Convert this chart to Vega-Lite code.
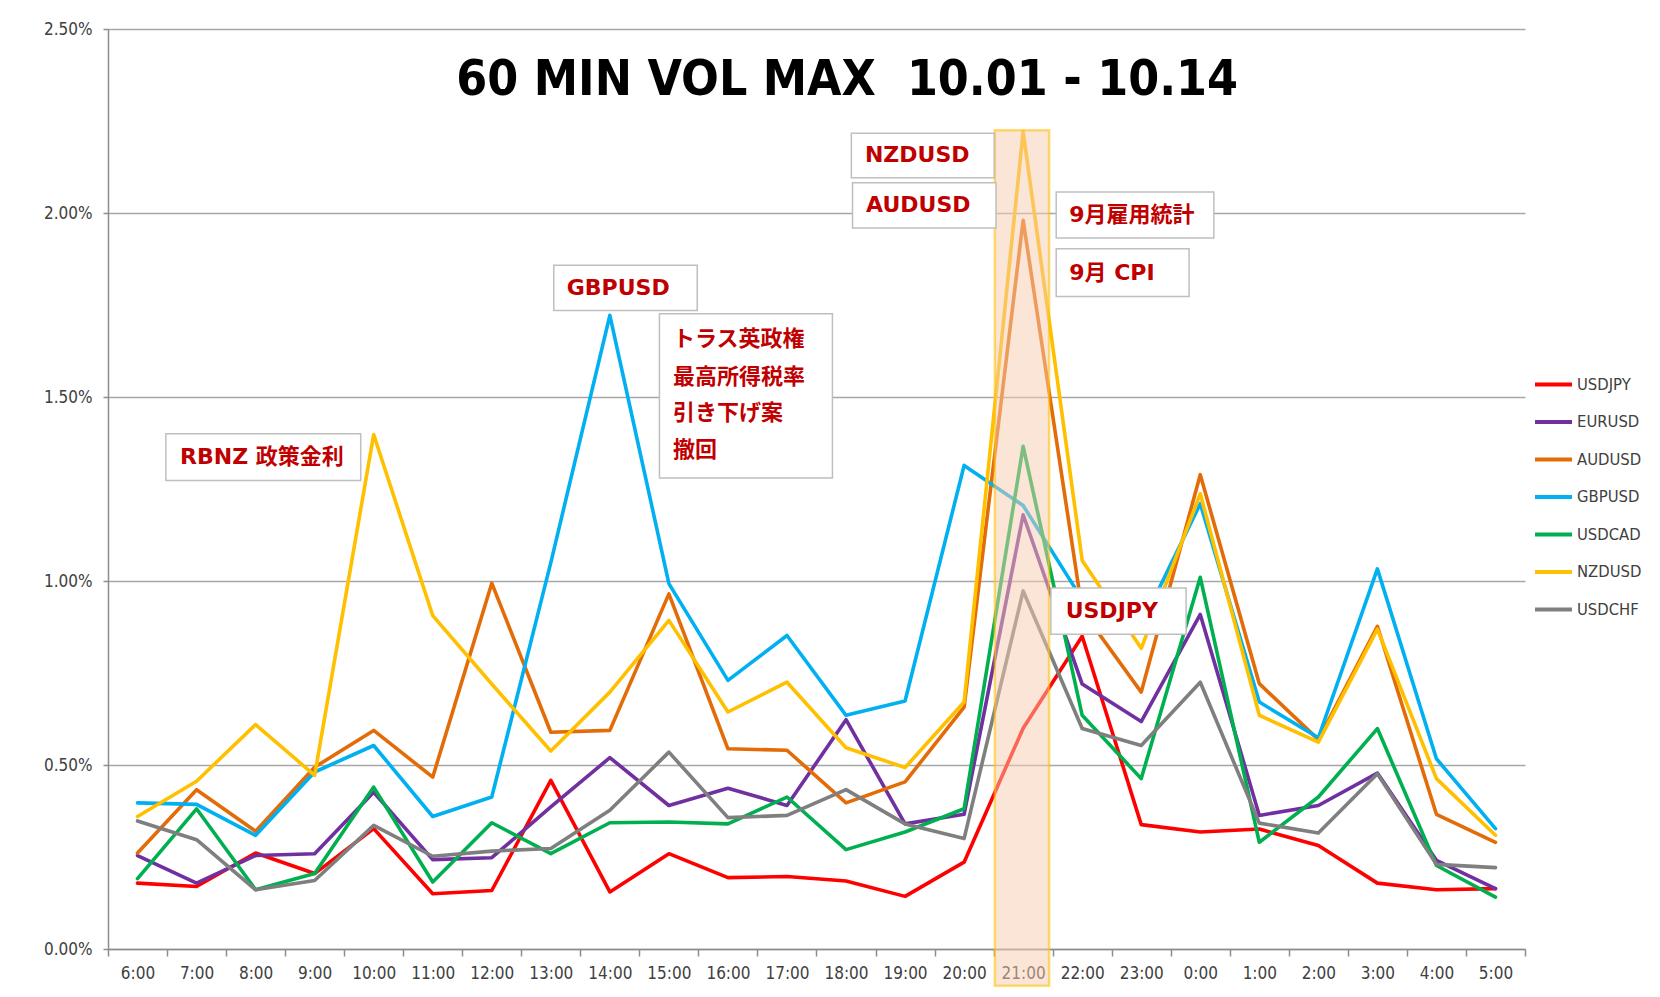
{
  "$schema": "https://vega.github.io/schema/vega-lite/v6.json",
  "width": 1417,
  "height": 920,
  "autosize": {"type": "none"},
  "padding": {"left": 108, "top": 29, "right": 135, "bottom": 48},
  "background": "white",
  "config": {
    "view": {"stroke": null}
  },
  "datasets": {
    "vol": [
      {"hour": "6:00", "pair": "USDJPY", "vol": 0.179}, {"hour": "6:00", "pair": "EURUSD", "vol": 0.254}, {"hour": "6:00", "pair": "AUDUSD", "vol": 0.261}, {"hour": "6:00", "pair": "GBPUSD", "vol": 0.397}, {"hour": "6:00", "pair": "USDCAD", "vol": 0.191}, {"hour": "6:00", "pair": "NZDUSD", "vol": 0.360}, {"hour": "6:00", "pair": "USDCHF", "vol": 0.348},
      {"hour": "7:00", "pair": "USDJPY", "vol": 0.170}, {"hour": "7:00", "pair": "EURUSD", "vol": 0.179}, {"hour": "7:00", "pair": "AUDUSD", "vol": 0.433}, {"hour": "7:00", "pair": "GBPUSD", "vol": 0.393}, {"hour": "7:00", "pair": "USDCAD", "vol": 0.381}, {"hour": "7:00", "pair": "NZDUSD", "vol": 0.456}, {"hour": "7:00", "pair": "USDCHF", "vol": 0.297},
      {"hour": "8:00", "pair": "USDJPY", "vol": 0.261}, {"hour": "8:00", "pair": "EURUSD", "vol": 0.254}, {"hour": "8:00", "pair": "AUDUSD", "vol": 0.320}, {"hour": "8:00", "pair": "GBPUSD", "vol": 0.309}, {"hour": "8:00", "pair": "USDCAD", "vol": 0.161}, {"hour": "8:00", "pair": "NZDUSD", "vol": 0.610}, {"hour": "8:00", "pair": "USDCHF", "vol": 0.161},
      {"hour": "9:00", "pair": "USDJPY", "vol": 0.205}, {"hour": "9:00", "pair": "EURUSD", "vol": 0.259}, {"hour": "9:00", "pair": "AUDUSD", "vol": 0.494}, {"hour": "9:00", "pair": "GBPUSD", "vol": 0.481}, {"hour": "9:00", "pair": "USDCAD", "vol": 0.205}, {"hour": "9:00", "pair": "NZDUSD", "vol": 0.472}, {"hour": "9:00", "pair": "USDCHF", "vol": 0.186},
      {"hour": "10:00", "pair": "USDJPY", "vol": 0.327}, {"hour": "10:00", "pair": "EURUSD", "vol": 0.426}, {"hour": "10:00", "pair": "AUDUSD", "vol": 0.594}, {"hour": "10:00", "pair": "GBPUSD", "vol": 0.553}, {"hour": "10:00", "pair": "USDCAD", "vol": 0.440}, {"hour": "10:00", "pair": "NZDUSD", "vol": 1.398}, {"hour": "10:00", "pair": "USDCHF", "vol": 0.336},
      {"hour": "11:00", "pair": "USDJPY", "vol": 0.150}, {"hour": "11:00", "pair": "EURUSD", "vol": 0.243}, {"hour": "11:00", "pair": "AUDUSD", "vol": 0.467}, {"hour": "11:00", "pair": "GBPUSD", "vol": 0.360}, {"hour": "11:00", "pair": "USDCAD", "vol": 0.182}, {"hour": "11:00", "pair": "NZDUSD", "vol": 0.906}, {"hour": "11:00", "pair": "USDCHF", "vol": 0.252},
      {"hour": "12:00", "pair": "USDJPY", "vol": 0.159}, {"hour": "12:00", "pair": "EURUSD", "vol": 0.248}, {"hour": "12:00", "pair": "AUDUSD", "vol": 0.994}, {"hour": "12:00", "pair": "GBPUSD", "vol": 0.413}, {"hour": "12:00", "pair": "USDCAD", "vol": 0.343}, {"hour": "12:00", "pair": "NZDUSD", "vol": 0.720}, {"hour": "12:00", "pair": "USDCHF", "vol": 0.266},
      {"hour": "13:00", "pair": "USDJPY", "vol": 0.458}, {"hour": "13:00", "pair": "EURUSD", "vol": 0.386}, {"hour": "13:00", "pair": "AUDUSD", "vol": 0.589}, {"hour": "13:00", "pair": "GBPUSD", "vol": 1.050}, {"hour": "13:00", "pair": "USDCAD", "vol": 0.259}, {"hour": "13:00", "pair": "NZDUSD", "vol": 0.538}, {"hour": "13:00", "pair": "USDCHF", "vol": 0.273},
      {"hour": "14:00", "pair": "USDJPY", "vol": 0.155}, {"hour": "14:00", "pair": "EURUSD", "vol": 0.520}, {"hour": "14:00", "pair": "AUDUSD", "vol": 0.594}, {"hour": "14:00", "pair": "GBPUSD", "vol": 1.722}, {"hour": "14:00", "pair": "USDCAD", "vol": 0.343}, {"hour": "14:00", "pair": "NZDUSD", "vol": 0.698}, {"hour": "14:00", "pair": "USDCHF", "vol": 0.377},
      {"hour": "15:00", "pair": "USDJPY", "vol": 0.259}, {"hour": "15:00", "pair": "EURUSD", "vol": 0.390}, {"hour": "15:00", "pair": "AUDUSD", "vol": 0.965}, {"hour": "15:00", "pair": "GBPUSD", "vol": 0.993}, {"hour": "15:00", "pair": "USDCAD", "vol": 0.345}, {"hour": "15:00", "pair": "NZDUSD", "vol": 0.893}, {"hour": "15:00", "pair": "USDCHF", "vol": 0.535},
      {"hour": "16:00", "pair": "USDJPY", "vol": 0.194}, {"hour": "16:00", "pair": "EURUSD", "vol": 0.437}, {"hour": "16:00", "pair": "AUDUSD", "vol": 0.544}, {"hour": "16:00", "pair": "GBPUSD", "vol": 0.730}, {"hour": "16:00", "pair": "USDCAD", "vol": 0.340}, {"hour": "16:00", "pair": "NZDUSD", "vol": 0.644}, {"hour": "16:00", "pair": "USDCHF", "vol": 0.357},
      {"hour": "17:00", "pair": "USDJPY", "vol": 0.197}, {"hour": "17:00", "pair": "EURUSD", "vol": 0.390}, {"hour": "17:00", "pair": "AUDUSD", "vol": 0.540}, {"hour": "17:00", "pair": "GBPUSD", "vol": 0.852}, {"hour": "17:00", "pair": "USDCAD", "vol": 0.413}, {"hour": "17:00", "pair": "NZDUSD", "vol": 0.725}, {"hour": "17:00", "pair": "USDCHF", "vol": 0.363},
      {"hour": "18:00", "pair": "USDJPY", "vol": 0.185}, {"hour": "18:00", "pair": "EURUSD", "vol": 0.623}, {"hour": "18:00", "pair": "AUDUSD", "vol": 0.397}, {"hour": "18:00", "pair": "GBPUSD", "vol": 0.635}, {"hour": "18:00", "pair": "USDCAD", "vol": 0.270}, {"hour": "18:00", "pair": "NZDUSD", "vol": 0.547}, {"hour": "18:00", "pair": "USDCHF", "vol": 0.433},
      {"hour": "19:00", "pair": "USDJPY", "vol": 0.143}, {"hour": "19:00", "pair": "EURUSD", "vol": 0.340}, {"hour": "19:00", "pair": "AUDUSD", "vol": 0.454}, {"hour": "19:00", "pair": "GBPUSD", "vol": 0.674}, {"hour": "19:00", "pair": "USDCAD", "vol": 0.318}, {"hour": "19:00", "pair": "NZDUSD", "vol": 0.493}, {"hour": "19:00", "pair": "USDCHF", "vol": 0.340},
      {"hour": "20:00", "pair": "USDJPY", "vol": 0.236}, {"hour": "20:00", "pair": "EURUSD", "vol": 0.366}, {"hour": "20:00", "pair": "AUDUSD", "vol": 0.657}, {"hour": "20:00", "pair": "GBPUSD", "vol": 1.314}, {"hour": "20:00", "pair": "USDCAD", "vol": 0.381}, {"hour": "20:00", "pair": "NZDUSD", "vol": 0.671}, {"hour": "20:00", "pair": "USDCHF", "vol": 0.300},
      {"hour": "21:00", "pair": "USDJPY", "vol": 0.600}, {"hour": "21:00", "pair": "EURUSD", "vol": 1.180}, {"hour": "21:00", "pair": "AUDUSD", "vol": 1.980}, {"hour": "21:00", "pair": "GBPUSD", "vol": 1.205}, {"hour": "21:00", "pair": "USDCAD", "vol": 1.366}, {"hour": "21:00", "pair": "NZDUSD", "vol": 2.221}, {"hour": "21:00", "pair": "USDCHF", "vol": 0.973},
      {"hour": "22:00", "pair": "USDJPY", "vol": 0.850}, {"hour": "22:00", "pair": "EURUSD", "vol": 0.720}, {"hour": "22:00", "pair": "AUDUSD", "vol": 0.920}, {"hour": "22:00", "pair": "GBPUSD", "vol": 0.950}, {"hour": "22:00", "pair": "USDCAD", "vol": 0.635}, {"hour": "22:00", "pair": "NZDUSD", "vol": 1.056}, {"hour": "22:00", "pair": "USDCHF", "vol": 0.599},
      {"hour": "23:00", "pair": "USDJPY", "vol": 0.338}, {"hour": "23:00", "pair": "EURUSD", "vol": 0.618}, {"hour": "23:00", "pair": "AUDUSD", "vol": 0.698}, {"hour": "23:00", "pair": "GBPUSD", "vol": 0.880}, {"hour": "23:00", "pair": "USDCAD", "vol": 0.463}, {"hour": "23:00", "pair": "NZDUSD", "vol": 0.817}, {"hour": "23:00", "pair": "USDCHF", "vol": 0.553},
      {"hour": "0:00", "pair": "USDJPY", "vol": 0.318}, {"hour": "0:00", "pair": "EURUSD", "vol": 0.909}, {"hour": "0:00", "pair": "AUDUSD", "vol": 1.289}, {"hour": "0:00", "pair": "GBPUSD", "vol": 1.210}, {"hour": "0:00", "pair": "USDCAD", "vol": 1.010}, {"hour": "0:00", "pair": "NZDUSD", "vol": 1.237}, {"hour": "0:00", "pair": "USDCHF", "vol": 0.725},
      {"hour": "1:00", "pair": "USDJPY", "vol": 0.326}, {"hour": "1:00", "pair": "EURUSD", "vol": 0.363}, {"hour": "1:00", "pair": "AUDUSD", "vol": 0.721}, {"hour": "1:00", "pair": "GBPUSD", "vol": 0.671}, {"hour": "1:00", "pair": "USDCAD", "vol": 0.290}, {"hour": "1:00", "pair": "NZDUSD", "vol": 0.635}, {"hour": "1:00", "pair": "USDCHF", "vol": 0.342},
      {"hour": "2:00", "pair": "USDJPY", "vol": 0.281}, {"hour": "2:00", "pair": "EURUSD", "vol": 0.390}, {"hour": "2:00", "pair": "AUDUSD", "vol": 0.569}, {"hour": "2:00", "pair": "GBPUSD", "vol": 0.574}, {"hour": "2:00", "pair": "USDCAD", "vol": 0.413}, {"hour": "2:00", "pair": "NZDUSD", "vol": 0.562}, {"hour": "2:00", "pair": "USDCHF", "vol": 0.315},
      {"hour": "3:00", "pair": "USDJPY", "vol": 0.179}, {"hour": "3:00", "pair": "EURUSD", "vol": 0.478}, {"hour": "3:00", "pair": "AUDUSD", "vol": 0.877}, {"hour": "3:00", "pair": "GBPUSD", "vol": 1.033}, {"hour": "3:00", "pair": "USDCAD", "vol": 0.599}, {"hour": "3:00", "pair": "NZDUSD", "vol": 0.869}, {"hour": "3:00", "pair": "USDCHF", "vol": 0.476},
      {"hour": "4:00", "pair": "USDJPY", "vol": 0.161}, {"hour": "4:00", "pair": "EURUSD", "vol": 0.241}, {"hour": "4:00", "pair": "AUDUSD", "vol": 0.366}, {"hour": "4:00", "pair": "GBPUSD", "vol": 0.517}, {"hour": "4:00", "pair": "USDCAD", "vol": 0.227}, {"hour": "4:00", "pair": "NZDUSD", "vol": 0.463}, {"hour": "4:00", "pair": "USDCHF", "vol": 0.230},
      {"hour": "5:00", "pair": "USDJPY", "vol": 0.164}, {"hour": "5:00", "pair": "EURUSD", "vol": 0.164}, {"hour": "5:00", "pair": "AUDUSD", "vol": 0.290}, {"hour": "5:00", "pair": "GBPUSD", "vol": 0.327}, {"hour": "5:00", "pair": "USDCAD", "vol": 0.141}, {"hour": "5:00", "pair": "NZDUSD", "vol": 0.309}, {"hour": "5:00", "pair": "USDCHF", "vol": 0.221}
    ],
    "band": [
      {"x1": 15.02, "x2": 15.94, "y1": -0.1, "y2": 2.225}
    ],
    "boxes": [
      {"label": "RBNZ", "x1": 0.98, "x2": 4.28, "y1": 1.273, "y2": 1.400},
      {"label": "GBPUSD", "x1": 7.55, "x2": 9.98, "y1": 1.735, "y2": 1.858},
      {"label": "truss", "x1": 9.34, "x2": 12.27, "y1": 1.280, "y2": 1.726},
      {"label": "NZDUSD", "x1": 12.59, "x2": 15.01, "y1": 2.096, "y2": 2.217},
      {"label": "AUDUSD", "x1": 12.61, "x2": 15.04, "y1": 1.959, "y2": 2.082},
      {"label": "NFP", "x1": 16.06, "x2": 18.73, "y1": 1.932, "y2": 2.057},
      {"label": "CPI", "x1": 16.06, "x2": 18.31, "y1": 1.773, "y2": 1.903},
      {"label": "USDJPY", "x1": 15.97, "x2": 18.26, "y1": 0.855, "y2": 0.981}
    ],
    "notes": [
      {"text": "RBNZ 政策金利", "x": 1.22, "y": 1.337},
      {"text": "GBPUSD", "x": 7.77, "y": 1.796},
      {"text": "トラス英政権", "x": 9.57, "y": 1.657},
      {"text": "最高所得税率", "x": 9.57, "y": 1.553},
      {"text": "引き下げ案", "x": 9.57, "y": 1.456},
      {"text": "撤回", "x": 9.57, "y": 1.355},
      {"text": "NZDUSD", "x": 12.82, "y": 2.157},
      {"text": "AUDUSD", "x": 12.84, "y": 2.021},
      {"text": "9月雇用統計", "x": 16.28, "y": 1.994},
      {"text": "9月 CPI", "x": 16.28, "y": 1.838},
      {"text": "USDJPY", "x": 16.22, "y": 0.918}
    ],
    "heading": [
      {"text": "60 MIN VOL MAX\u00a0\u00a010.01 - 10.14", "x": 12.52, "y": 2.32}
    ]
  },
  "layer": [
    {
      "data": {"name": "vol"},
      "mark": {"type": "line", "strokeWidth": 3.6, "strokeJoin": "round", "strokeCap": "round"},
      "encoding": {
        "x": {
          "field": "hour",
          "type": "ordinal",
          "bandPosition": 0.5,
          "sort": ["6:00","7:00","8:00","9:00","10:00","11:00","12:00","13:00","14:00","15:00","16:00","17:00","18:00","19:00","20:00","21:00","22:00","23:00","0:00","1:00","2:00","3:00","4:00","5:00"],
          "scale": {"type": "band", "paddingInner": 0, "paddingOuter": 0},
          "axis": {
            "title": null,
            "labelAngle": 0,
            "tickBand": "extent",
            "tickSize": 7,
            "grid": false,
            "domainColor": "#8c8c8c",
            "domainWidth": 1.5,
            "tickColor": "#8c8c8c",
            "tickWidth": 1.5,
            "labelFont": "DejaVu Sans Condensed, Liberation Sans, sans-serif",
            "labelFontSize": 17,
            "labelColor": "#404040",
            "labelPadding": 9
          }
        },
        "y": {
          "field": "vol",
          "type": "quantitative",
          "scale": {"domain": [0, 2.5], "nice": false},
          "axis": {
            "title": null,
            "values": [0, 0.5, 1, 1.5, 2, 2.5],
            "labelExpr": "format(datum.value, '.2f') + '%'",
            "grid": true,
            "gridColor": "#a6a6a6",
            "gridWidth": 1.5,
            "domainColor": "#8c8c8c",
            "domainWidth": 1.5,
            "tickColor": "#8c8c8c",
            "tickWidth": 1.5,
            "tickSize": 5,
            "labelFont": "DejaVu Sans Condensed, Liberation Sans, sans-serif",
            "labelFontSize": 17,
            "labelColor": "#404040",
            "labelPadding": 11
          }
        },
        "color": {
          "field": "pair",
          "type": "nominal",
          "sort": ["USDJPY","EURUSD","AUDUSD","GBPUSD","USDCAD","NZDUSD","USDCHF"],
          "scale": {
            "domain": ["USDJPY","EURUSD","AUDUSD","GBPUSD","USDCAD","NZDUSD","USDCHF"],
            "range": ["#ff0000","#7030a0","#e36c09","#00b0f0","#00b050","#ffc000","#7f7f7f"]
          },
          "legend": {
            "orient": "none",
            "legendX": 1425,
            "legendY": 335,
            "title": null,
            "padding": 0,
            "symbolType": "stroke",
            "symbolSize": 1369,
            "symbolStrokeWidth": 4,
            "labelFont": "DejaVu Sans Condensed, Liberation Sans, sans-serif",
            "labelFontSize": 16.5,
            "labelColor": "#404040",
            "labelOffset": 3,
            "rowPadding": 8.5
          }
        }
      }
    },
    {
      "data": {"name": "band"},
      "mark": {"type": "rect", "fill": "#f8cbad", "fillOpacity": 0.5, "stroke": "#ffc000", "strokeOpacity": 0.55, "strokeWidth": 2.5},
      "encoding": {
        "x": {"field": "x1", "type": "quantitative", "scale": {"domain": [0, 24], "nice": false, "zero": false}, "axis": null},
        "x2": {"field": "x2"},
        "y": {"field": "y1", "type": "quantitative", "scale": {"domain": [0, 2.5], "nice": false}},
        "y2": {"field": "y2"}
      }
    },
    {
      "data": {"name": "boxes"},
      "mark": {"type": "rect", "fill": "#ffffff", "stroke": "#bfbfbf", "strokeWidth": 1.5},
      "encoding": {
        "x": {"field": "x1", "type": "quantitative", "scale": {"domain": [0, 24], "nice": false, "zero": false}, "axis": null},
        "x2": {"field": "x2"},
        "y": {"field": "y1", "type": "quantitative", "scale": {"domain": [0, 2.5], "nice": false}},
        "y2": {"field": "y2"}
      }
    },
    {
      "data": {"name": "notes"},
      "mark": {"type": "text", "align": "left", "baseline": "middle", "font": "DejaVu Sans, Noto Sans CJK JP", "fontWeight": "bold", "fontSize": 22, "color": "#c00000"},
      "encoding": {
        "x": {"field": "x", "type": "quantitative", "scale": {"domain": [0, 24], "nice": false, "zero": false}, "axis": null},
        "y": {"field": "y", "type": "quantitative", "scale": {"domain": [0, 2.5], "nice": false}},
        "text": {"field": "text"}
      }
    },
    {
      "data": {"name": "heading"},
      "mark": {"type": "text", "align": "center", "baseline": "alphabetic", "font": "DejaVu Sans Condensed, Liberation Sans, sans-serif", "fontWeight": "bold", "fontSize": 49.5, "color": "#000000"},
      "encoding": {
        "x": {"field": "x", "type": "quantitative", "scale": {"domain": [0, 24], "nice": false, "zero": false}, "axis": null},
        "y": {"field": "y", "type": "quantitative", "scale": {"domain": [0, 2.5], "nice": false}},
        "text": {"field": "text"}
      }
    }
  ],
  "resolve": {"scale": {"x": "independent"}}
}
